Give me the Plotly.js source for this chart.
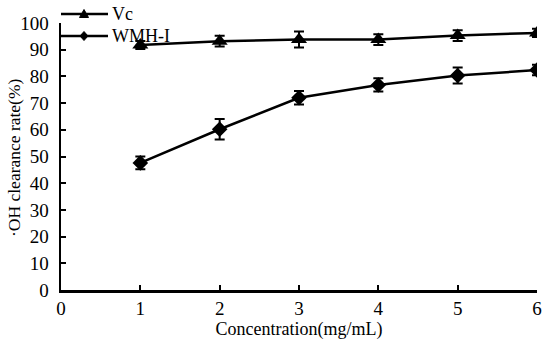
<!DOCTYPE html>
<html><head><meta charset="utf-8">
<script src="https://cdn.plot.ly/plotly-3.0.1.min.js"></script>
<style>body{margin:0;background:#fff}#c{width:550px;height:341px}</style>
</head><body><div id="c"></div>
<script>
var conc = [1, 2, 3, 4, 5, 6];
var vc = [91.8, 93.2, 93.8, 93.8, 95.3, 96.3];
var vcErr = [1.5, 2.0, 3.0, 2.0, 2.0, 1.5];
var wmh = [47.6, 60.2, 72.0, 76.8, 80.3, 82.4];
var wmhErr = [2.4, 3.8, 2.5, 2.5, 3.0, 2.0];
var seriesNames = ['Vc', 'WMH-I'];
var xTicks = [0, 1, 2, 3, 4, 5, 6];
var yTicks = [0, 10, 20, 30, 40, 50, 60, 70, 80, 90, 100];
var yTitle = '·OH clearance rate(%)';

var FAM = '"Liberation Serif", "Times New Roman", serif';
function f(s) { return {family: FAM, size: s, color: '#000'}; }

// plot area in pixels
var W = 550, H = 341, L = 61, R = 13, T = 23, B = 51;
var pw = W - L - R, ph = H - T - B;
function px(x) { return (x - L) / pw; }
function py(y) { return (H - B - y) / ph; }

// custom legend geometry (pixels)
var legRows = [14, 36];
var legX0 = 61, legX1 = 108, legMid = 84, legText = 110;
var keyPaths = ['M-4.5,-3.5 L4.5,-3.5 L0,4.5 Z', 'M0,-4.5 L4,0 L0,4.5 L-4,0 Z'];

var traces = [
  {x: conc, y: vc, name: seriesNames[0], mode: 'lines+markers', type: 'scatter', showlegend: false,
   line: {color: '#000', width: 2.5},
   marker: {symbol: 'triangle-up', size: 14, color: '#000'},
   error_y: {type: 'data', array: vcErr, visible: true, color: '#000', thickness: 2, width: 5}},
  {x: conc, y: wmh, name: seriesNames[1], mode: 'lines+markers', type: 'scatter', showlegend: false,
   line: {color: '#000', width: 2.5},
   marker: {symbol: 'diamond', size: 12, color: '#000'},
   error_y: {type: 'data', array: wmhErr, visible: true, color: '#000', thickness: 2, width: 5}}
];

var shapes = [];
var annotations = [];
seriesNames.forEach(function (n, i) {
  shapes.push({type: 'line', xref: 'paper', yref: 'paper', layer: 'below',
               x0: px(legX0), x1: px(legX1), y0: py(legRows[i]), y1: py(legRows[i]),
               line: {color: '#000', width: 2.5}});
  shapes.push({type: 'path', xref: 'paper', yref: 'paper', layer: 'below',
               xsizemode: 'pixel', ysizemode: 'pixel',
               xanchor: px(legMid), yanchor: py(legRows[i]),
               path: keyPaths[i], fillcolor: '#000', line: {color: '#000', width: 1}});
  annotations.push({text: n, xref: 'paper', yref: 'paper', x: px(legText), y: py(legRows[i]),
          xanchor: 'left', yanchor: 'middle', showarrow: false, font: f(18)});
});
annotations.push({text: yTitle, xref: 'paper', yref: 'paper', x: px(14), y: py(158),
                  xanchor: 'center', yanchor: 'middle', textangle: -90, showarrow: false, font: f(17.5)});

var layout = {
  width: W, height: H,
  margin: {l: L, r: R, t: T, b: B},
  paper_bgcolor: 'rgba(0,0,0,0)', plot_bgcolor: 'rgba(0,0,0,0)',
  font: f(18),
  showlegend: false,
  shapes: shapes,
  annotations: annotations,
  xaxis: {range: [0, 6], tickvals: xTicks, ticktext: xTicks.map(String),
          showgrid: false, zeroline: false, showline: true, linecolor: '#000', linewidth: 2.5,
          ticks: 'inside', ticklen: 5, tickwidth: 2, tickcolor: '#000',
          tickfont: f(19), automargin: false,
          title: {text: 'Concentration(mg/mL)', font: f(18), standoff: 0}},
  yaxis: {range: [0, 100], tickvals: yTicks, ticktext: yTicks.map(String),
          showgrid: false, zeroline: false, showline: true, linecolor: '#000', linewidth: 2.5,
          ticks: 'inside', ticklen: 5, tickwidth: 2, tickcolor: '#000',
          tickfont: f(19), automargin: false, ticklabelstandoff: 6}
};
Plotly.newPlot('c', traces, layout, {displayModeBar: false, staticPlot: true});
</script></body></html>
